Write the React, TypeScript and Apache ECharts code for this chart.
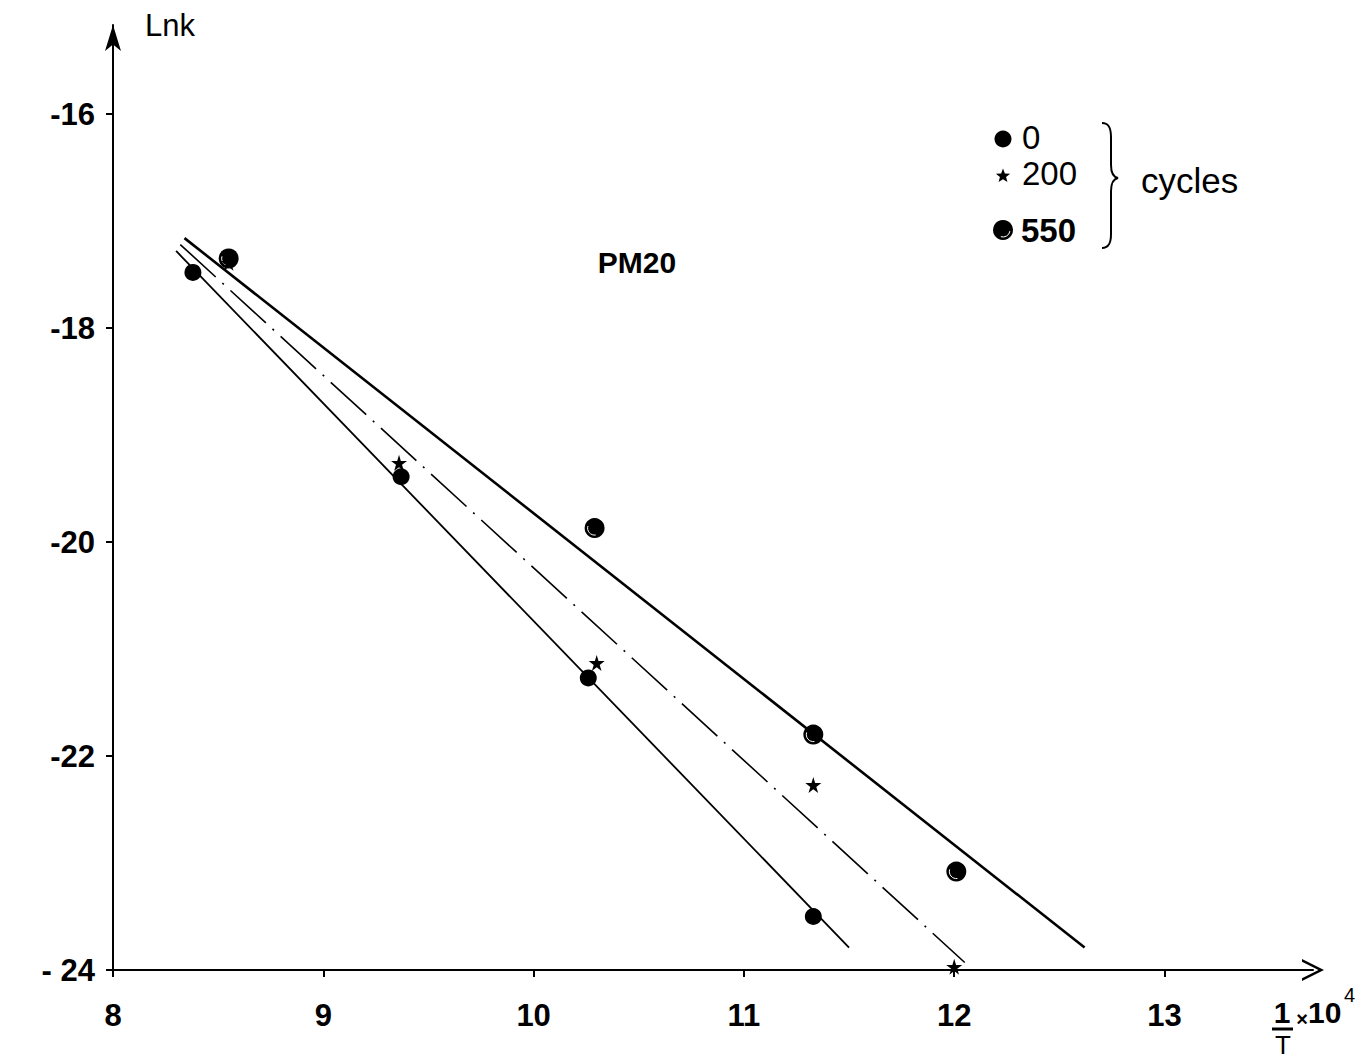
import React, { useEffect, useRef } from "react";
import * as echarts from "echarts";

// ---- data ----
const cycles0X = [8.38, 9.37, 10.26, 11.33];
const cycles0Y = [-17.48, -19.39, -21.27, -23.5];
const cycles200X = [8.55, 9.36, 10.3, 11.33, 12.0];
const cycles200Y = [-17.39, -19.26, -21.13, -22.27, -23.97];
const cycles550X = [8.55, 10.29, 11.33, 12.01];
const cycles550Y = [-17.35, -19.87, -21.8, -23.08];

const fit0X = [8.3, 11.5];
const fit0Y = [-17.28, -23.79];
const fit200X = [8.32, 12.05];
const fit200Y = [-17.22, -23.93];
const fit550X = [8.34, 12.62];
const fit550Y = [-17.16, -23.79];

const xTicks = [8, 9, 10, 11, 12, 13];
const yTicks = [-24, -22, -20, -18, -16];
const yTickLabels = ["- 24", "-22", "-20", "-18", "-16"];
const legendLabels = ["0", "200", "550"];

const zip = (xs: number[], ys: number[]) => xs.map((x, i) => [x, ys[i]]);

const STAR =
  "path://M50,0 L61,35 L98,35 L68,57 L79,91 L50,70 L21,91 L32,57 L2,35 L39,35 Z";
const FONT = "'Liberation Sans', Arial, sans-serif";

function starPoints(cx: number, cy: number, R: number, r: number) {
  const pts: number[][] = [];
  for (let i = 0; i < 10; i++) {
    const a = -Math.PI / 2 + (i * Math.PI) / 5;
    const rr = i % 2 === 0 ? R : r;
    pts.push([cx + rr * Math.cos(a), cy + rr * Math.sin(a)]);
  }
  return pts;
}

let braceRegistered = false;

export default function App() {
  const ref = useRef<HTMLDivElement>(null);
  useEffect(() => {
    if (!ref.current) return;
    if (!braceRegistered) {
      echarts.graphic.registerShape(
        "brace",
        echarts.graphic.extendPath(
          "M0,0 C7,0 9,5 9,14 L9,42 C9,50 11,54 16,55 C11,56 9,60 9,68 L9,111 C9,120 7,125 0,125",
          {}
        )
      );
      braceRegistered = true;
    }
    const chart = echarts.init(ref.current, undefined, { renderer: "svg" });
    const axisLabelStyle = {
      color: "#000",
      fontFamily: FONT,
      fontWeight: "bold" as const,
      fontSize: 31,
    };
    const option: any = {
      animation: false,
      backgroundColor: "#fff",
      grid: { left: 113, top: 25, right: 49, bottom: 90 },
      xAxis: {
        type: "value",
        min: 8,
        max: 13.706,
        interval: 1,
        splitLine: { show: false },
        axisLine: {
          lineStyle: { color: "#000", width: 2 },
          symbol: ["none", "path://M0,24 L12,0 L24,24 L21,24 L12,6 L3,24 Z"],
          symbolSize: [22, 24],
        },
        axisTick: { show: true, length: 7, lineStyle: { color: "#000", width: 2 } },
        axisLabel: {
          ...axisLabelStyle,
          margin: 30,
          showMaxLabel: false,
          formatter: (v: number) => (xTicks.includes(v) ? String(v) : ""),
        },
      },
      yAxis: {
        type: "value",
        min: -24,
        max: -15.168,
        interval: 2,
        splitLine: { show: false },
        axisLine: {
          lineStyle: { color: "#000", width: 2 },
          symbol: ["none", "arrow"],
          symbolSize: [12, 26],
        },
        axisTick: { show: true, length: 7, lineStyle: { color: "#000", width: 2 } },
        axisLabel: {
          ...axisLabelStyle,
          margin: 18,
          showMaxLabel: false,
          formatter: (v: number) => {
            const i = yTicks.indexOf(v);
            return i >= 0 ? yTickLabels[i] : "";
          },
        },
      },
      series: [
        {
          name: "fit 0",
          type: "line",
          data: zip(fit0X, fit0Y),
          symbol: "none",
          lineStyle: { color: "#000", width: 1.8 },
          z: 2,
        },
        {
          name: "fit 200",
          type: "line",
          data: zip(fit200X, fit200Y),
          symbol: "none",
          lineStyle: { color: "#000", width: 1.6, type: [48, 9, 2, 9] },
          z: 2,
        },
        {
          name: "fit 550",
          type: "line",
          data: zip(fit550X, fit550Y),
          symbol: "none",
          lineStyle: { color: "#000", width: 2.6 },
          z: 2,
        },
        {
          name: "0",
          type: "scatter",
          data: zip(cycles0X, cycles0Y),
          symbol: "circle",
          symbolSize: 17,
          itemStyle: { color: "#000", opacity: 1 },
          z: 4,
        },
        {
          name: "550",
          type: "custom",
          data: zip(cycles550X, cycles550Y),
          encode: { x: 0, y: 1 },
          z: 5,
          renderItem: (_params: any, api: any) => {
            const p = api.coord([api.value(0), api.value(1)]);
            return {
              type: "group",
              children: [
                {
                  type: "circle",
                  shape: { cx: p[0], cy: p[1], r: 10 },
                  style: { fill: "#000" },
                },
                {
                  type: "arc",
                  shape: {
                    cx: p[0],
                    cy: p[1],
                    r: 7,
                    startAngle: Math.PI * 0.45,
                    endAngle: Math.PI * 1.1,
                    clockwise: true,
                  },
                  style: { stroke: "#fff", lineWidth: 1, fill: "none" },
                },
              ],
            };
          },
        },
        {
          name: "200",
          type: "scatter",
          data: zip(cycles200X, cycles200Y),
          symbol: STAR,
          symbolSize: 16,
          itemStyle: { color: "#000", opacity: 1 },
          z: 6,
        },
      ],
      graphic: [
        {
          type: "text",
          left: 145,
          top: 10,
          style: { text: "Lnk", font: `31px ${FONT}`, fill: "#000" },
        },
        {
          type: "text",
          x: 637,
          y: 262,
          style: {
            text: "PM20",
            font: `bold 30px ${FONT}`,
            fill: "#000",
            align: "center",
            verticalAlign: "middle",
          },
        },
        // legend
        { type: "circle", shape: { cx: 1003, cy: 139, r: 8.5 }, style: { fill: "#000" } },
        {
          type: "polygon",
          shape: { points: starPoints(1003, 176, 7.5, 3.2) },
          style: { fill: "#000" },
        },
        { type: "circle", shape: { cx: 1003, cy: 230, r: 10 }, style: { fill: "#000" } },
        {
          type: "arc",
          shape: {
            cx: 1003,
            cy: 230,
            r: 7,
            startAngle: Math.PI * 0.05,
            endAngle: Math.PI * 0.6,
            clockwise: true,
          },
          style: { stroke: "#fff", lineWidth: 1, fill: "none" },
        },
        {
          type: "text",
          x: 1022,
          y: 137,
          style: { text: legendLabels[0], font: `33px ${FONT}`, fill: "#000", verticalAlign: "middle" },
        },
        {
          type: "text",
          x: 1022,
          y: 173,
          style: { text: legendLabels[1], font: `33px ${FONT}`, fill: "#000", verticalAlign: "middle" },
        },
        {
          type: "text",
          x: 1021,
          y: 230,
          style: { text: legendLabels[2], font: `bold 33px ${FONT}`, fill: "#000", verticalAlign: "middle" },
        },
        {
          type: "brace",
          x: 1102,
          y: 123,
          style: { stroke: "#000", lineWidth: 2, fill: "none" },
        },
        {
          type: "text",
          x: 1141,
          y: 180,
          style: { text: "cycles", font: `35px ${FONT}`, fill: "#000", verticalAlign: "middle" },
        },
        // x axis name 1/T x 10^4
        {
          type: "text",
          x: 1282,
          y: 1012,
          style: {
            text: "1",
            font: `bold 30px ${FONT}`,
            fill: "#000",
            align: "center",
            verticalAlign: "middle",
          },
        },
        {
          type: "line",
          shape: { x1: 1272, y1: 1029, x2: 1293, y2: 1029 },
          style: { stroke: "#000", lineWidth: 3 },
        },
        {
          type: "text",
          x: 1283,
          y: 1045,
          style: {
            text: "T",
            font: `26px ${FONT}`,
            fill: "#000",
            align: "center",
            verticalAlign: "middle",
          },
        },
        {
          type: "text",
          x: 1302,
          y: 1019,
          style: {
            text: "×",
            font: `bold 20px ${FONT}`,
            fill: "#000",
            align: "center",
            verticalAlign: "middle",
          },
        },
        {
          type: "text",
          x: 1308,
          y: 1012,
          style: {
            text: "10",
            font: `bold 30px ${FONT}`,
            fill: "#000",
            verticalAlign: "middle",
          },
        },
        {
          type: "text",
          x: 1344,
          y: 995,
          style: {
            text: "4",
            font: `20px ${FONT}`,
            fill: "#000",
            verticalAlign: "middle",
          },
        },
      ],
    };
    chart.setOption(option);
    return () => chart.dispose();
  }, []);
  return (
    <div
      ref={ref}
      style={{
        position: "fixed",
        left: 0,
        top: 0,
        width: 1362,
        height: 1060,
        background: "#fff",
      }}
    />
  );
}
